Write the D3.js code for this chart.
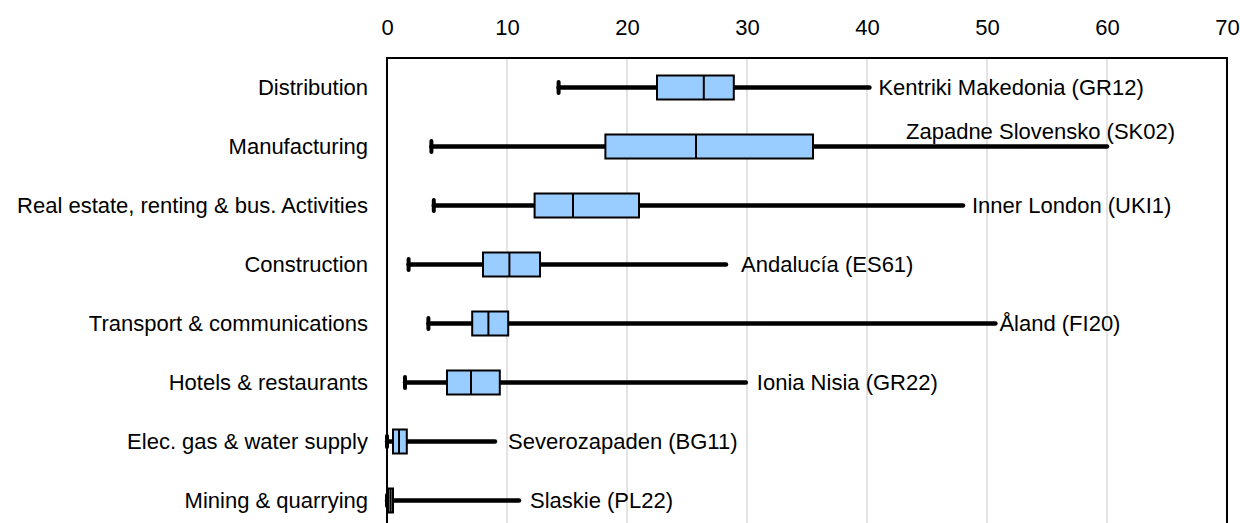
<!DOCTYPE html>
<html>
<head>
<meta charset="utf-8">
<script src="https://cdn.jsdelivr.net/npm/d3@7"></script>
<style>
  html, body { margin: 0; padding: 0; background: #fff; }
  svg { display: block; font-family: "Liberation Sans", Arial, sans-serif; }
</style>
</head>
<body>
<svg id="chart" width="1240" height="523"></svg>
<script>
const categories = [
  "Distribution",
  "Manufacturing",
  "Real estate, renting & bus. Activities",
  "Construction",
  "Transport & communications",
  "Hotels & restaurants",
  "Elec. gas & water supply",
  "Mining & quarrying"
];
const minValues    = [14.3, 3.7, 3.9, 1.8, 3.45, 1.5, 0.0, 0.0];
const q1Values     = [22.5, 18.2, 12.3, 8.0, 7.1, 5.0, 0.5, 0.1];
const medianValues = [26.4, 25.75, 15.5, 10.2, 8.45, 7.0, 1.0, 0.3];
const q3Values     = [28.9, 35.5, 21.0, 12.75, 10.1, 9.4, 1.65, 0.5];
const maxValues    = [40.2, 60.0, 48.0, 28.25, 50.7, 29.9, 9.0, 11.0];
const maxRegions = [
  "Kentriki Makedonia (GR12)",
  "Zapadne Slovensko (SK02)",
  "Inner London (UKI1)",
  "Andalucía (ES61)",
  "Åland (FI20)",
  "Ionia Nisia (GR22)",
  "Severozapaden (BG11)",
  "Slaskie (PL22)"
];
const tickValues = [0, 10, 20, 30, 40, 50, 60, 70];

const data = categories.map((c, i) => ({
  cat: c, min: minValues[i], q1: q1Values[i], med: medianValues[i],
  q3: q3Values[i], max: maxValues[i], region: maxRegions[i], i
}));

// label placement tweaks (styling, not data)
const labelDx = [9, -201, 9, 15, 4, 11, 13, 11];
const labelDy = [0, -15, 0, 0, 0, 0, 0, 0];

const svg = d3.select("#chart");
const x = d3.scaleLinear().domain([0, 70]).range([387, 1227]);
const y = d3.scaleBand().domain(categories).range([58, 530]).padding(0);
const FS = 22;

// gridlines
svg.append("g").selectAll("line")
  .data(tickValues.filter(t => t > 0 && t < 70))
  .join("line")
  .attr("x1", d => x(d)).attr("x2", d => x(d))
  .attr("y1", 58).attr("y2", 530)
  .attr("stroke", "#c8c8c8").attr("stroke-width", 1);

// top axis
const axis = d3.axisTop(x).tickValues(tickValues).tickSize(0).tickPadding(0).tickFormat(d3.format("d"));
const ax = svg.append("g").attr("transform", "translate(0,35)").call(axis);
ax.select(".domain").remove();
ax.selectAll("text").attr("font-size", FS).attr("fill", "#000")
  .attr("font-family", "'Liberation Sans', Arial, sans-serif");

// plot border
svg.append("rect")
  .attr("x", x(0)).attr("y", 58)
  .attr("width", x(70) - x(0)).attr("height", 530 - 58)
  .attr("fill", "none").attr("stroke", "#000").attr("stroke-width", 2);

// category labels
svg.append("g").selectAll("text").data(data).join("text")
  .attr("x", 368).attr("y", d => y(d.cat) + y.bandwidth() / 2)
  .attr("text-anchor", "end").attr("dominant-baseline", "central")
  .attr("font-size", FS).attr("fill", "#000")
  .text(d => d.cat);

const boxH = 24;
const g = svg.append("g");
const rows = g.selectAll("g.row").data(data).join("g").attr("class", "row")
  .attr("transform", d => `translate(0,${y(d.cat) + y.bandwidth() / 2})`);

// whisker line
rows.append("line")
  .attr("x1", d => x(d.min)).attr("x2", d => x(d.max))
  .attr("y1", 0).attr("y2", 0)
  .attr("stroke", "#000").attr("stroke-width", 4.5).attr("stroke-linecap", "round");
// min cap
rows.append("line")
  .attr("x1", d => x(d.min)).attr("x2", d => x(d.min))
  .attr("y1", -5.5).attr("y2", 5.5)
  .attr("stroke", "#000").attr("stroke-width", 4).attr("stroke-linecap", "round");
// box
rows.append("rect")
  .attr("x", d => x(d.q1)).attr("y", -boxH / 2)
  .attr("width", d => x(d.q3) - x(d.q1)).attr("height", boxH)
  .attr("fill", "#99ccff").attr("stroke", "#000").attr("stroke-width", 2);
// median
rows.append("line")
  .attr("x1", d => x(d.med)).attr("x2", d => x(d.med))
  .attr("y1", -boxH / 2).attr("y2", boxH / 2)
  .attr("stroke", "#000").attr("stroke-width", 2);
// max region labels
rows.append("text")
  .attr("x", d => x(d.max) + labelDx[d.i])
  .attr("y", d => labelDy[d.i])
  .attr("dominant-baseline", "central")
  .attr("font-size", FS).attr("fill", "#000")
  .text(d => d.region);
</script>
</body>
</html>
